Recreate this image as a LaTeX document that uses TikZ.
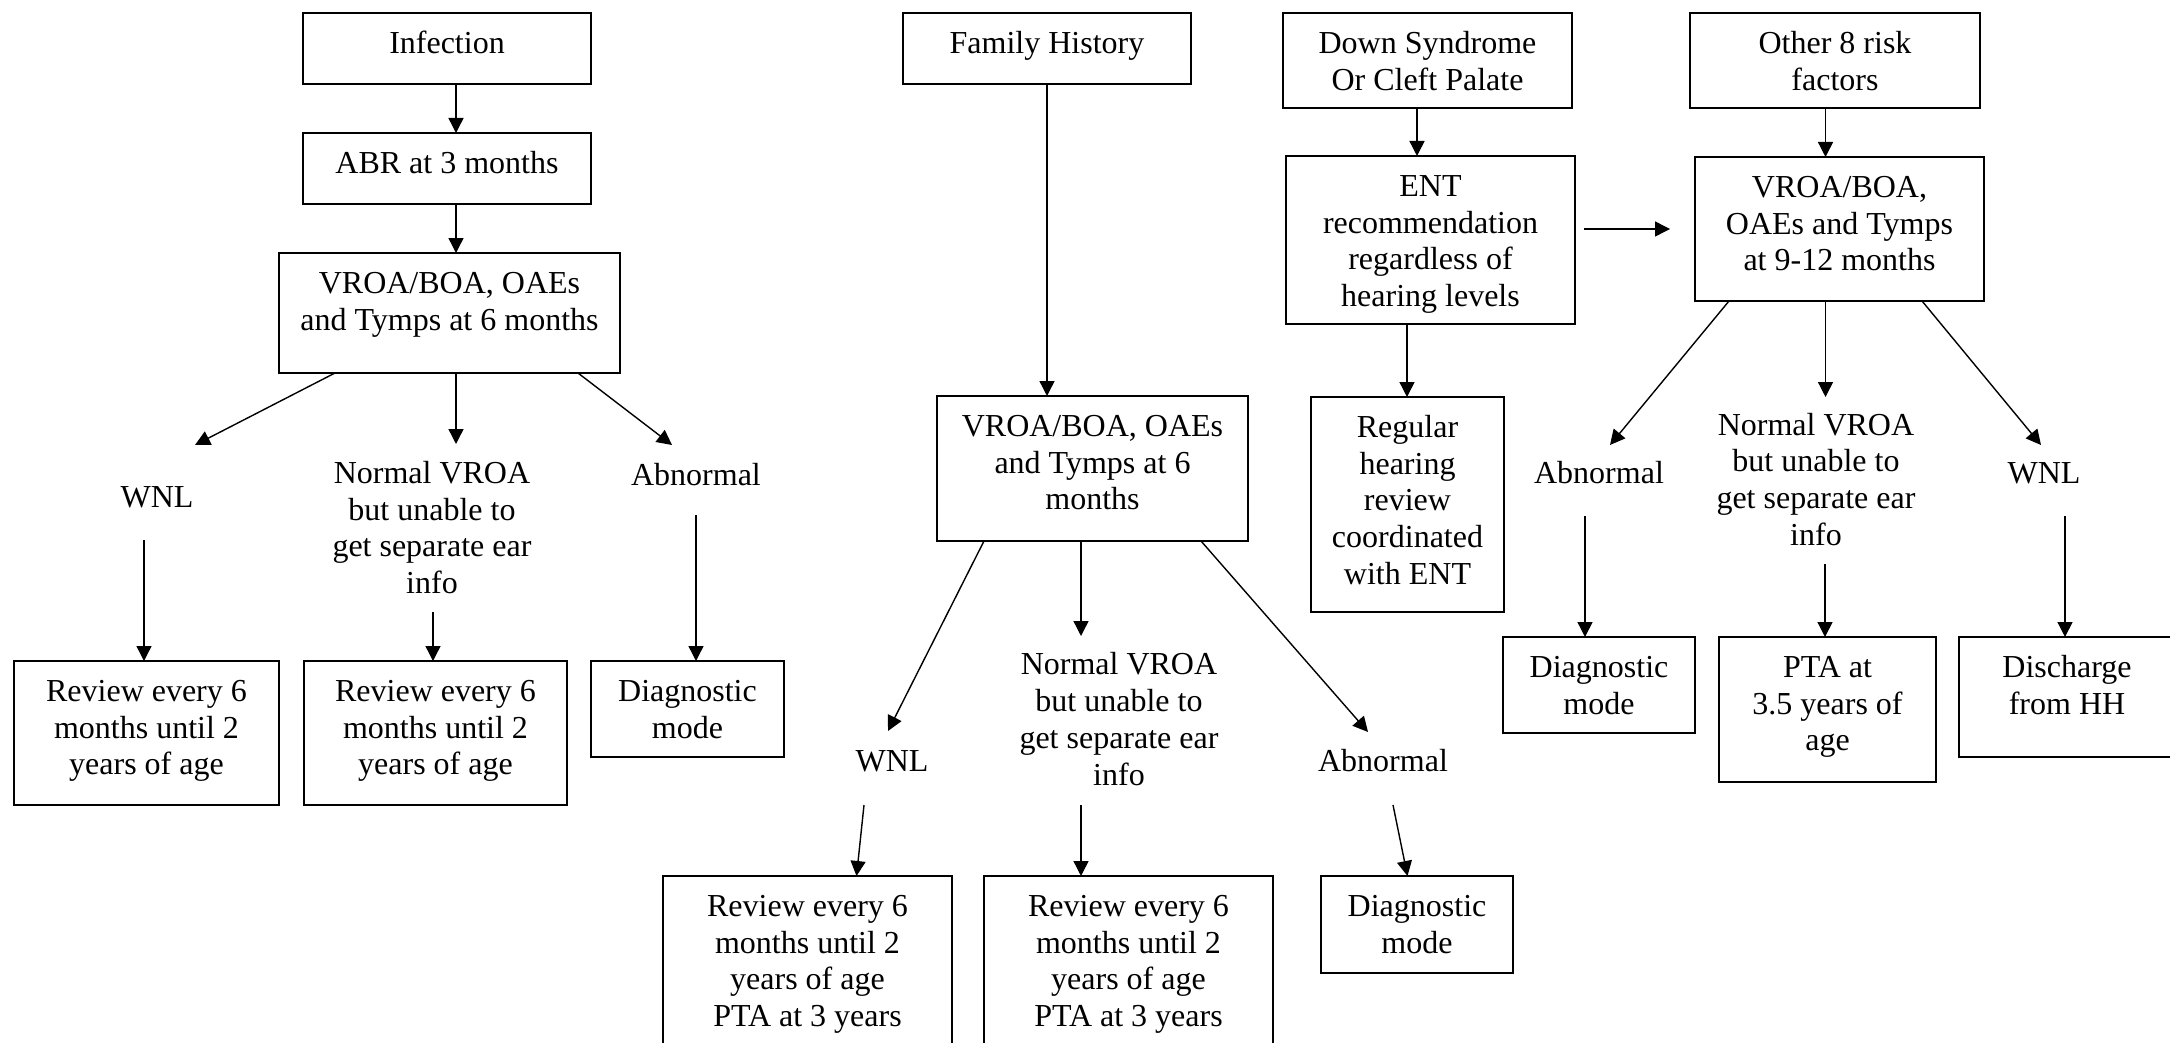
\documentclass[tikz,border=0pt]{standalone}
\usepackage{fontspec}
\setmainfont{Liberation Serif}
\usetikzlibrary{arrows.meta}
\newcommand{\boxtxt}[3]{\parbox[t][#2][t]{#1}{\centering\rule{0pt}{40.5pt}#3}}
\newcommand{\lbltxt}[1]{\parbox[t]{300pt}{\centering\rule{0pt}{40.5pt}#1}}
\begin{document}
\begin{tikzpicture}[x=1pt,y=-1pt,
  font=\fontsize{32}{36.7}\selectfont,
  flowbox/.style={draw, line width=1.8pt, inner sep=0pt, outer sep=0pt, anchor=north west},
  lbl/.style={inner sep=0pt, outer sep=0pt, anchor=north},
  arr/.style={line width=1.4pt, -{Triangle[length=15pt,width=15pt]}}]
\useasboundingbox (0,0) rectangle (2170,1043);
\clip (0,0) rectangle (2170,1043);
\fill[white] (0,0) rectangle (2170,1043);

% ---- boxes ----
\node[flowbox] (inf)  at (303,13)   {\boxtxt{288pt}{71pt}{Infection}};
\node[flowbox] (abr)  at (303,133)  {\boxtxt{288pt}{71pt}{ABR at 3 months}};
\node[flowbox] (va)   at (279,253)  {\boxtxt{341pt}{120pt}{VROA/BOA, OAEs\\and Tymps at 6 months}};
\node[flowbox] (ra1)  at (14,661)   {\boxtxt{265pt}{144pt}{Review every 6\\months until 2\\years of age}};
\node[flowbox] (ra2)  at (304,661)  {\boxtxt{263pt}{144pt}{Review every 6\\months until 2\\years of age}};
\node[flowbox] (da)   at (591,661)  {\boxtxt{193pt}{96pt}{Diagnostic\\mode}};
\node[flowbox] (fam)  at (903,13)   {\boxtxt{288pt}{71pt}{Family History}};
\node[flowbox] (vb)   at (937,396)  {\boxtxt{311pt}{145pt}{VROA/BOA, OAEs\\and Tymps at 6\\months}};
\node[flowbox] (rb1)  at (663,876)  {\boxtxt{289pt}{190pt}{Review every 6\\months until 2\\years of age\\PTA at 3 years}};
\node[flowbox] (rb2)  at (984,876)  {\boxtxt{289pt}{190pt}{Review every 6\\months until 2\\years of age\\PTA at 3 years}};
\node[flowbox] (db)   at (1321,876) {\boxtxt{192pt}{97pt}{Diagnostic\\mode}};
\node[flowbox] (down) at (1283,13)  {\boxtxt{289pt}{95pt}{Down Syndrome\\Or Cleft Palate}};
\node[flowbox] (ent)  at (1286,156) {\boxtxt{289pt}{168pt}{ENT\\recommendation\\regardless of\\hearing levels}};
\node[flowbox] (reg)  at (1311,397) {\boxtxt{193pt}{215pt}{Regular\\hearing\\review\\coordinated\\with ENT}};
\node[flowbox] (oth)  at (1690,13)  {\boxtxt{290pt}{95pt}{Other 8 risk\\factors}};
\node[flowbox] (vc)   at (1695,157) {\boxtxt{289pt}{144pt}{VROA/BOA,\\OAEs and Tymps\\at 9-12 months}};
\node[flowbox] (dc)   at (1503,637) {\boxtxt{192pt}{96pt}{Diagnostic\\mode}};
\node[flowbox] (pta)  at (1719,637) {\boxtxt{217pt}{145pt}{PTA at\\3.5 years of\\age}};
\node[flowbox] (dis)  at (1959,637) {\boxtxt{216pt}{120pt}{Discharge\\from HH}};

% ---- labels ----
\node[lbl] (wnla) at (157,467.2)  {\lbltxt{WNL}};
\node[lbl] (nva)  at (432,442.8)  {\lbltxt{Normal VROA\\but unable to\\get separate ear\\info}};
\node[lbl] (abna) at (696,444.5)  {\lbltxt{Abnormal}};
\node[lbl] (wnlb) at (892,731.3)  {\lbltxt{WNL}};
\node[lbl] (nvb)  at (1119,634.4) {\lbltxt{Normal VROA\\but unable to\\get separate ear\\info}};
\node[lbl] (abnb) at (1383,731.3) {\lbltxt{Abnormal}};
\node[lbl] (abnc) at (1599,442.8) {\lbltxt{Abnormal}};
\node[lbl] (nvc)  at (1816,394.5) {\lbltxt{Normal VROA\\but unable to\\get separate ear\\info}};
\node[lbl] (wnlc) at (2044,442.8) {\lbltxt{WNL}};

% ---- free ends ----
\coordinate (t3) at (195,445);
\coordinate (t4) at (456,444);
\coordinate (t5) at (672,445);
\coordinate (s6) at (144,540);
\coordinate (s7) at (433,612);
\coordinate (s8) at (696,515);
\coordinate (t10) at (888,731);
\coordinate (t11) at (1081,636);
\coordinate (t12) at (1368,732);
\coordinate (s13) at (864,805);
\coordinate (s14) at (1081,805);
\coordinate (s15) at (1393,805);
\coordinate (s18) at (1584,229);
\coordinate (t18) at (1670,229);
\coordinate (t20) at (1610,445);
\coordinate (t21) at (1825.5,397);
\coordinate (t22) at (2041,445);
\coordinate (s23) at (1585,516);
\coordinate (s24) at (1825,564);
\coordinate (s25) at (2065,516);

% ---- connectors ----
\draw[arr] (inf.south -| 456,0) -- (abr.north -| 456,0);
\draw[arr] (abr.south -| 456,0) -- (va.north -| 456,0);
\draw[arr] (va.south -| 335,0) -- (t3);
\draw[arr] (va.south -| 456,0) -- (t4);
\draw[arr] (va.south -| 578,0) -- (t5);
\draw[arr] (s6) -- (ra1.north -| s6);
\draw[arr] (s7) -- (ra2.north -| s7);
\draw[arr] (s8) -- (da.north -| s8);
\draw[arr] (fam.south -| 1047,0) -- (vb.north -| 1047,0);
\draw[arr] (vb.south -| 984,0) -- (t10);
\draw[arr] (vb.south -| 1081,0) -- (t11);
\draw[arr] (vb.south -| 1201,0) -- (t12);
\draw[arr] (s13) -- (rb1.north -| 856.5,0);
\draw[arr] (s14) -- (rb2.north -| s14);
\draw[arr] (s15) -- (db.north -| 1407.5,0);
\draw[arr] (down.south -| 1417,0) -- (ent.north -| 1417,0);
\draw[arr] (ent.south -| 1407,0) -- (reg.north -| 1407,0);
\draw[arr] (s18) -- (t18);
\draw[arr] (oth.south -| 1825.5,0) -- (vc.north -| 1825.5,0);
\draw[arr] (vc.south -| 1729,0) -- (t20);
\draw[arr] (vc.south -| 1825.5,0) -- (t21);
\draw[arr] (vc.south -| 1922,0) -- (t22);
\draw[arr] (s23) -- (dc.north -| s23);
\draw[arr] (s24) -- (pta.north -| s24);
\draw[arr] (s25) -- (dis.north -| s25);
\end{tikzpicture}
\end{document}
